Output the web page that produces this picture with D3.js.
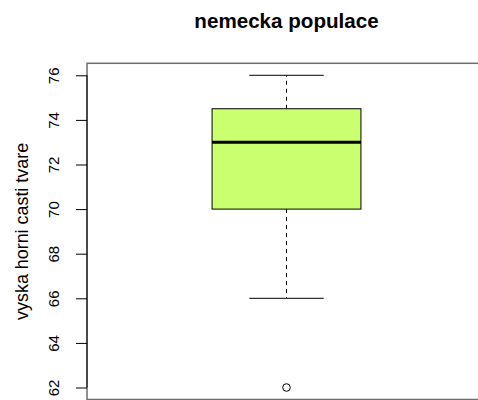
<!DOCTYPE html>
<html>
<head>
<meta charset="utf-8">
<script src="https://cdn.jsdelivr.net/npm/d3@7"></script>
<style>
  body { margin: 0; background: #fff; }
  svg { display: block; font-family: "Liberation Sans", Arial, sans-serif; }
</style>
</head>
<body>
<div class="chart-div"></div>
<script>
// box stats
const groups = ["nemecka populace"];
const lowerWhisker = [66];
const q1 = [70];
const median = [73];
const q3 = [74.5];
const upperWhisker = [76];
const outliers = [[62]];
const yTicks = [62, 64, 66, 68, 70, 72, 74, 76];

const w = 478;
const h = 400;
const plotL = 87, plotR = 486, plotT = 62.8, plotB = 400;

const svg = d3.select(".chart-div")
  .append("svg")
  .attr("width", w)
  .attr("height", h);

const yScale = d3.scaleLinear()
  .domain([61.44, 76.56])
  .range([plotB, plotT]);

const xScale = d3.scaleBand()
  .domain(groups)
  .range([plotL, plotR])
  .paddingInner(0)
  .paddingOuter(0.84);

// plot frame
svg.append("rect")
  .attr("x", plotL)
  .attr("y", plotT + 0.5)
  .attr("width", plotR - plotL)
  .attr("height", plotB - plotT - 1)
  .attr("fill", "none")
  .attr("stroke", "#6e6e6e")
  .attr("stroke-width", 1.5);

const yAxis = d3.axisLeft(yScale)
  .tickValues(yTicks)
  .tickSize(11)
  .tickPadding(0)
  .tickFormat(d3.format("d"));

const gy = svg.append("g")
  .attr("id", "y-axis")
  .attr("transform", `translate(${plotL},0)`)
  .call(yAxis);

gy.select(".domain")
  .attr("d", `M0,${yScale(62)}V${yScale(76)}`)
  .attr("stroke", "#000");
gy.selectAll(".tick line").attr("stroke", "#000");
gy.selectAll(".tick text")
  .attr("font-size", 15)
  .attr("fill", "#000")
  .attr("text-anchor", "middle")
  .attr("x", null)
  .attr("dy", null)
  .attr("transform", "translate(-27.6,0) rotate(-90)");

// axis title
svg.append("text")
  .attr("transform", `translate(28,${(plotT + plotB) / 2}) rotate(-90)`)
  .attr("text-anchor", "middle")
  .attr("font-size", 17.9)
  .text("vyska horni casti tvare");

// chart title
svg.append("text")
  .attr("x", (plotL + plotR) / 2)
  .attr("y", 27.5)
  .attr("text-anchor", "middle")
  .attr("font-size", 20.6)
  .attr("font-weight", "bold")
  .text("nemecka populace");

const boxes = svg.selectAll(".box")
  .data(groups)
  .enter()
  .append("g")
  .attr("class", "box");

boxes.each(function (g, i) {
  const sel = d3.select(this);
  const x0 = xScale(g);
  const bw = xScale.bandwidth();
  const cx = x0 + bw / 2;
  const capW = bw / 2;

  // whiskers
  sel.append("line")
    .attr("x1", cx).attr("x2", cx)
    .attr("y1", yScale(q3[i])).attr("y2", yScale(upperWhisker[i]))
    .attr("stroke", "#000").attr("stroke-dasharray", "4,4");
  sel.append("line")
    .attr("x1", cx).attr("x2", cx)
    .attr("y1", yScale(q1[i])).attr("y2", yScale(lowerWhisker[i]))
    .attr("stroke", "#000").attr("stroke-dasharray", "4,4");

  // caps
  [upperWhisker[i], lowerWhisker[i]].forEach(v => {
    sel.append("line")
      .attr("x1", cx - capW / 2).attr("x2", cx + capW / 2)
      .attr("y1", yScale(v)).attr("y2", yScale(v))
      .attr("stroke", "#000");
  });

  sel.append("rect")
    .attr("x", x0)
    .attr("y", yScale(q3[i]))
    .attr("width", bw)
    .attr("height", yScale(q1[i]) - yScale(q3[i]))
    .attr("fill", "#caff70")
    .attr("stroke", "#000");

  sel.append("line")
    .attr("x1", x0).attr("x2", x0 + bw)
    .attr("y1", yScale(median[i])).attr("y2", yScale(median[i]))
    .attr("stroke", "#000").attr("stroke-width", 3);

  sel.selectAll("circle")
    .data(outliers[i])
    .enter()
    .append("circle")
    .attr("cx", cx)
    .attr("cy", d => yScale(d))
    .attr("r", 3.8)
    .attr("fill", "none")
    .attr("stroke", "#000");
});
</script>
</body>
</html>
